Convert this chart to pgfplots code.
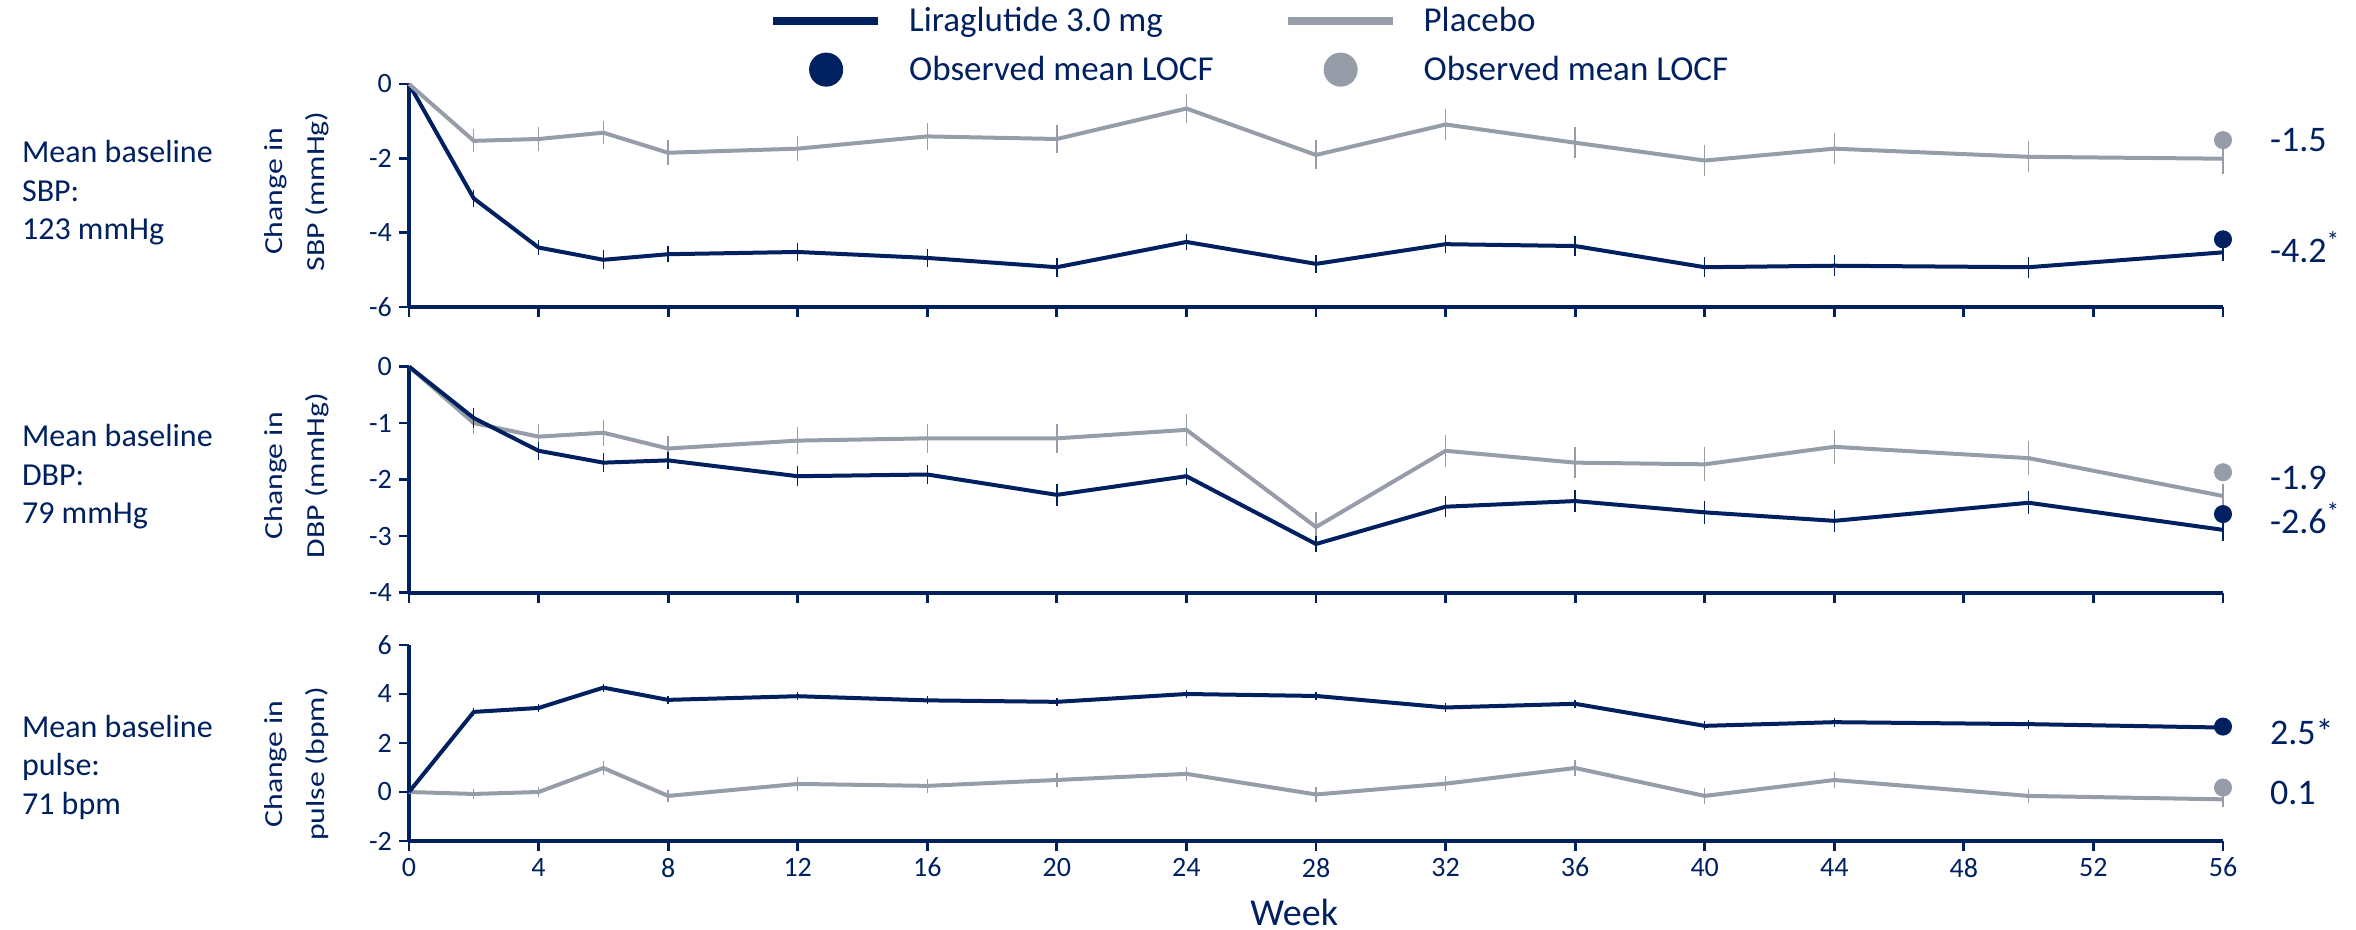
\documentclass[border=0pt]{standalone}
\usepackage{fontspec}
\setmainfont{Carlito}
\usepackage{graphicx}
\usepackage{pgfplots}
\pgfplotsset{compat=1.18}
\definecolor{navy}{RGB}{0,32,96}
\definecolor{pgray}{RGB}{150,157,169}

\pgfplotstableread{
x y e
0 0 0
2 -3.08 0.23
4 -4.40 0.21
6 -4.73 0.26
8 -4.58 0.22
12 -4.52 0.23
16 -4.68 0.24
20 -4.93 0.25
24 -4.25 0.21
28 -4.84 0.24
32 -4.31 0.25
36 -4.36 0.27
40 -4.93 0.27
44 -4.89 0.28
50 -4.93 0.28
56 -4.53 0.23
}\sbplira
\pgfplotstableread{
x y e
0 0 0
2 -1.53 0.31
4 -1.48 0.31
6 -1.31 0.31
8 -1.85 0.34
12 -1.74 0.34
16 -1.41 0.36
20 -1.48 0.39
24 -0.66 0.39
28 -1.91 0.39
32 -1.09 0.42
36 -1.58 0.41
40 -2.06 0.42
44 -1.74 0.42
50 -1.96 0.42
56 -2.01 0.40
}\sbpplac
\pgfplotstableread{
x y e
0 0 0
2 -0.91 0.18
4 -1.49 0.16
6 -1.70 0.17
8 -1.66 0.15
12 -1.94 0.18
16 -1.91 0.17
20 -2.27 0.19
24 -1.94 0.15
28 -3.14 0.15
32 -2.48 0.19
36 -2.38 0.19
40 -2.58 0.20
44 -2.73 0.20
50 -2.41 0.20
56 -2.89 0.19
}\dbplira
\pgfplotstableread{
x y e
0 0 0
2 -1.00 0.20
4 -1.24 0.22
6 -1.17 0.23
8 -1.45 0.23
12 -1.31 0.24
16 -1.27 0.26
20 -1.27 0.26
24 -1.12 0.28
28 -2.84 0.27
32 -1.49 0.28
36 -1.70 0.28
40 -1.73 0.30
44 -1.42 0.30
50 -1.62 0.30
56 -2.29 0.22
}\dbpplac
\pgfplotstableread{
x y e
0 0 0
2 3.27 0.15
4 3.43 0.15
6 4.26 0.16
8 3.76 0.16
12 3.91 0.16
16 3.74 0.16
20 3.68 0.17
24 4.00 0.17
28 3.92 0.17
32 3.45 0.17
36 3.60 0.17
40 2.70 0.18
44 2.85 0.18
50 2.77 0.18
56 2.63 0.18
}\pulselira
\pgfplotstableread{
x y e
0 0 0
2 -0.08 0.20
4 0.00 0.22
6 0.98 0.29
8 -0.16 0.25
12 0.33 0.27
16 0.25 0.28
20 0.49 0.30
24 0.74 0.30
28 -0.10 0.30
32 0.34 0.31
36 0.98 0.34
40 -0.16 0.32
44 0.49 0.32
50 -0.16 0.30
56 -0.30 0.30
}\pulseplac

\newcommand{\wide}[1]{\scalebox{1.22}[1]{#1}}

\pgfplotsset{
  panel/.style={
    scale only axis, width=907pt,
    xmin=0, xmax=56, enlargelimits=false, clip=false,
    axis x line*=bottom, axis y line*=left,
    x axis line style={line width=2pt,-},
    y axis line style={line width=1.8pt,-},
    axis line style={navy},
    xtick={0,4,...,56},
    tick align=outside, major tick length=5pt,
    tick style={navy, line width=1.4pt},
    ticklabel style={font=\fontsize{14}{16}\selectfont, text=navy},
    /pgf/number format/assume math mode=true,
  },
  lira/.style={navy, line width=2pt, mark=none,
    error bars/y dir=both, error bars/y explicit, error bars/error mark=none,
    error bars/error bar style={line width=0.7pt, navy}},
  plac/.style={pgray, line width=2pt, mark=none,
    error bars/y dir=both, error bars/y explicit, error bars/error mark=none,
    error bars/error bar style={line width=0.7pt, pgray}},
}
\tikzset{
  ylab/.style={rotate=90, anchor=center, align=center, text=navy, font=\fontsize{13}{21}\selectfont},
  rlab/.style={anchor=west, xshift=20pt, font=\fontsize{18}{20}\selectfont, text=navy},
}

\begin{document}
\begin{tikzpicture}
\useasboundingbox (0,0) rectangle (1178pt,-465pt);

% Top panel: SBP
\begin{axis}[panel, at={(204.5pt,-42pt)}, anchor=north west, height=111.5pt,
  ymin=-6, ymax=0, ytick={-6,-4,-2,0}, yticklabels={-6,-4,-2,0},
  xticklabels={},
  legend columns=2,
  legend style={draw=none, fill=none, at={(axis description cs:0.195,1.38)}, anchor=north west,
    font=\fontsize{17.5}{20}\selectfont, text=navy, row sep=6.5pt,
    /tikz/every even column/.append style={column sep=33pt}},
  legend cell align=left]
\addplot[lira, legend image code/.code={\draw[navy, line width=4pt] (0pt,0pt) -- (52.5pt,0pt); \path[draw=none] (0pt,0pt) -- (66pt,0pt);}] table[x=x, y=y, y error=e] {\sbplira};
\addlegendentry{Liraglutide 3.0 mg}
\addplot[plac, legend image code/.code={\draw[pgray, line width=4pt] (0pt,0pt) -- (52.5pt,0pt); \path[draw=none] (0pt,0pt) -- (66pt,0pt);}] table[x=x, y=y, y error=e] {\sbpplac};
\addlegendentry{Placebo}
\addplot[only marks, mark=*, mark size=4.3pt, navy, legend image code/.code={\fill[navy] (26.5pt,0pt) circle (8.3pt); \path[draw=none] (0pt,0pt) -- (66pt,0pt);}] coordinates {(56,-4.18)};
\addlegendentry{Observed mean LOCF}
\addplot[only marks, mark=*, mark size=4.3pt, pgray, legend image code/.code={\fill[pgray] (26.5pt,0pt) circle (8.3pt); \path[draw=none] (0pt,0pt) -- (66pt,0pt);}] coordinates {(56,-1.51)};
\addlegendentry{Observed mean LOCF}
\node[rlab] at (axis cs:56,-1.51) {-1.5};
\node[rlab] at (axis cs:56,-4.39) {-4.2\textsuperscript{*}};
\node[ylab] at ([xshift=-56pt,yshift=2pt]axis description cs:0,0.5) {\wide{Change in}\\\wide{SBP (mmHg)}};
\end{axis}

% Middle panel: DBP
\begin{axis}[panel, at={(204.5pt,-183.3pt)}, anchor=north west, height=113pt,
  ymin=-4, ymax=0, ytick={-4,-3,-2,-1,0}, yticklabels={-4,-3,-2,-1,0},
  xticklabels={}]
\addplot[plac] table[x=x, y=y, y error=e] {\dbpplac};
\addplot[lira] table[x=x, y=y, y error=e] {\dbplira};
\addplot[only marks, mark=*, mark size=4.3pt, pgray] coordinates {(56,-1.87)};
\addplot[only marks, mark=*, mark size=4.3pt, navy] coordinates {(56,-2.61)};
\node[rlab] at (axis cs:56,-1.97) {-1.9};
\node[rlab] at (axis cs:56,-2.68) {-2.6\textsuperscript{*}};
\node[ylab] at ([xshift=-56pt,yshift=2pt]axis description cs:0,0.5) {\wide{Change in}\\\wide{DBP (mmHg)}};
\end{axis}

% Bottom panel: pulse
\begin{axis}[panel, at={(204.5pt,-322.5pt)}, anchor=north west, height=98pt,
  ymin=-2, ymax=6, ytick={-2,0,2,4,6}, yticklabels={-2,0,2,4,6},
  xlabel={Week},
  xlabel style={at={([yshift=-35.5pt]axis description cs:0.488,0)}, anchor=center, font=\fontsize{19}{21}\selectfont, text=navy}]
\addplot[plac] table[x=x, y=y, y error=e] {\pulseplac};
\addplot[lira] table[x=x, y=y, y error=e] {\pulselira};
\addplot[only marks, mark=*, mark size=4.3pt, pgray] coordinates {(56,0.18)};
\addplot[only marks, mark=*, mark size=4.3pt, navy] coordinates {(56,2.67)};
\node[rlab] at (axis cs:56,2.45) {2.5*};
\node[rlab] at (axis cs:56,-0.04) {0.1};
\node[ylab] at ([xshift=-56pt,yshift=-10.5pt]axis description cs:0,0.5) {\wide{Change in}\\\wide{pulse (bpm)}};
\end{axis}

\node[anchor=west, align=left, font=\fontsize{16}{19.25}\selectfont, text=navy] at (7.5pt,-96.5pt) {Mean baseline\\SBP:\\123 mmHg};
\node[anchor=west, align=left, font=\fontsize{16}{19.25}\selectfont, text=navy] at (7.5pt,-238.5pt) {Mean baseline\\DBP:\\79 mmHg};
\node[anchor=west, align=left, font=\fontsize{16}{19.25}\selectfont, text=navy] at (7.5pt,-383.5pt) {Mean baseline\\pulse:\\71 bpm};
\end{tikzpicture}
\end{document}
